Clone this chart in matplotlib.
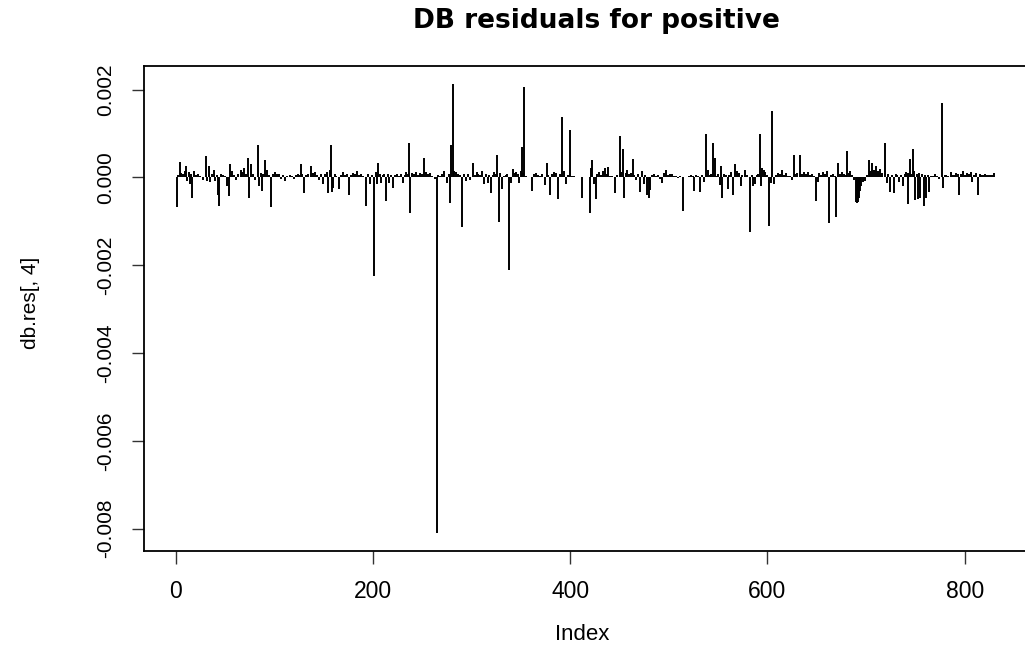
import numpy as np
import matplotlib
matplotlib.use("Agg")
import matplotlib.pyplot as plt

# ---- data (values in units of 1e-4) ----
n_obs = 830
bar_index = [
    1, 2, 4, 5, 7, 9, 10, 11, 13, 14, 16, 17, 19, 21, 23, 25, 28, 31, 32, 34, 35, 37, 39, 40, 42, 43, 44, 46, 48, 50,
    52, 54, 55, 57, 59, 61, 63, 66, 67, 69, 71, 73, 74, 76, 78, 80, 83, 84, 86, 87, 89, 91, 93, 95, 97, 99, 101, 103,
    105, 107, 109, 111, 113, 116, 118, 120, 122, 124, 125, 127, 128, 130, 132, 134, 137, 139, 141, 143, 145, 147, 149,
    151, 153, 154, 156, 157, 158, 159, 161, 163, 166, 168, 170, 172, 174, 176, 178, 180, 182, 184, 186, 188, 190, 193,
    195, 197, 199, 201, 203, 204, 205, 207, 208, 210, 211, 213, 215, 216, 218, 220, 222, 224, 226, 228, 230, 232, 234,
    236, 237, 238, 240, 242, 244, 246, 248, 250, 252, 254, 256, 258, 260, 263, 265, 266, 268, 270, 272, 275, 277, 278,
    279, 281, 282, 284, 286, 288, 290, 292, 294, 296, 298, 301, 303, 305, 307, 309, 311, 313, 315, 317, 318, 320, 322,
    323, 325, 326, 328, 329, 331, 333, 335, 336, 338, 340, 342, 344, 345, 347, 348, 350, 351, 352, 353, 355, 361, 363,
    365, 367, 369, 371, 374, 376, 377, 380, 382, 384, 386, 388, 390, 392, 394, 396, 398, 400, 402, 404, 407, 412, 420,
    421, 422, 424, 426, 427, 429, 431, 433, 435, 437, 438, 440, 442, 445, 447, 450, 452, 454, 455, 457, 458, 460, 462,
    464, 465, 467, 469, 471, 473, 475, 476, 478, 480, 481, 483, 485, 487, 489, 491, 493, 495, 497, 499, 501, 503, 505,
    507, 509, 511, 514, 517, 520, 522, 524, 526, 528, 530, 532, 534, 536, 538, 540, 542, 543, 545, 547, 549, 550, 552,
    553, 554, 556, 558, 560, 561, 563, 565, 567, 569, 571, 573, 574, 577, 579, 582, 584, 585, 587, 589, 590, 592, 593,
    594, 596, 597, 599, 600, 602, 604, 605, 607, 609, 611, 613, 615, 617, 619, 621, 623, 625, 627, 628, 630, 633, 635,
    637, 639, 641, 643, 645, 647, 649, 651, 652, 654, 656, 658, 660, 662, 664, 666, 668, 670, 672, 674, 676, 678, 680,
    681, 683, 684, 686, 688, 690, 691, 692, 693, 694, 695, 697, 699, 701, 703, 704, 706, 708, 710, 712, 714, 716, 719,
    721, 722, 724, 726, 728, 730, 731, 733, 735, 737, 739, 740, 742, 743, 745, 746, 748, 749, 750, 752, 753, 754, 755,
    757, 759, 760, 761, 763, 764, 766, 768, 770, 772, 774, 777, 778, 780, 781, 783, 786, 788, 790, 791, 793, 794, 796,
    798, 800, 802, 804, 806, 807, 809, 811, 813, 815, 817, 819, 821, 823, 825, 827, 829, 830,
]
bar_value_e4 = [
    -6.7, 0.5, 3.5, 1.0, 0.8, 1.5, 2.5, -0.8, 1.2, -1.6, 0.9, -4.6, 1.5, 0.6, 0.8, 0.4, -0.5, 5.0, -0.8, 2.5, -1.1, 0.8,
    1.8, -0.9, 0.6, -4.1, -6.4, 0.9, 0.5, 0.4, -2.0, -4.3, 3.0, 1.5, 0.6, -0.5, 0.8, 1.8, 1.2, 2.1, 0.9, 4.5, -4.7, 3.0,
    0.7, -0.6, 7.5, -2.0, 1.0, -3.0, 0.8, 4.0, 1.8, 0.6, -6.7, 0.8, 1.2, 0.7, 0.9, -0.4, 0.5, -0.9, 0.4, 0.6, 0.3, -0.3,
    0.5, 0.8, 0.5, 3.0, 0.7, -3.5, 0.6, 0.8, 2.5, 1.0, 1.2, 0.5, -0.5, 0.8, -1.5, 0.9, 1.2, -3.6, 1.8, 7.5, -3.3, -2.5,
    0.7, 0.4, -2.6, 0.5, 1.2, 0.6, 0.8, -4.1, 0.6, 1.0, 0.9, 1.4, 0.5, 0.7, 0.3, -6.6, 0.8, -1.5, 0.6, -22.5, 1.2, -1.4,
    3.2, 0.8, -1.2, 0.6, 0.9, -5.4, 0.7, -1.3, 0.5, -2.5, 0.6, 0.9, 0.4, 0.7, -1.2, 0.6, 1.3, 0.9, 7.8, -8.2, 1.0, 0.8,
    1.2, 0.6, 1.0, 0.9, 4.5, 1.3, 0.8, 1.0, 0.3, -0.4, -81.0, 0.6, 0.4, 0.8, 1.5, -1.2, 0.7, -5.9, 7.3, 21.3, 1.5, 1.2,
    0.7, 0.5, -11.3, 0.8, -0.9, 0.7, -0.6, 3.3, 0.6, 1.2, 0.9, 0.5, 1.4, -1.5, 0.8, -1.2, 0.6, -3.6, 0.5, 1.2, 0.9, 5.2,
    -10.1, 1.0, -2.7, 0.4, 0.6, 0.9, -21.1, -1.2, 2.0, 1.0, 1.2, 0.8, -1.3, 1.5, 6.9, 1.0, 20.5, 0.3, -3.0, 0.7, 1.0,
    0.6, 0.4, 0.7, -1.8, 3.2, 0.6, -4.1, 0.8, 1.2, 1.0, -4.8, 0.9, 13.7, 1.5, -1.5, 0.6, 10.7, 0.4, 0.3, 0.2, -4.6,
    -8.2, 2.2, 4.0, -1.5, -4.8, 0.8, 1.2, 0.6, 1.4, 2.2, 0.8, 2.4, 0.4, 0.3, -3.6, 0.5, 9.5, 1.2, 6.5, -4.6, 1.0, 1.8,
    0.8, 1.0, 4.1, 0.6, -0.6, 0.8, -3.4, 1.5, -1.4, 0.5, -4.1, -4.6, -2.8, 0.5, 0.8, 0.3, 0.6, -0.4, -1.2, 1.0, 1.8, 0.6,
    0.9, 0.7, 0.4, 0.3, -0.2, 0.3, -7.7, 0.2, 0.4, 0.6, 0.3, -3.0, 0.5, 0.3, -3.2, 0.6, -1.0, 9.9, 1.8, 0.6, 0.9, 7.8,
    4.5, 0.4, 0.7, -1.8, 2.5, -4.6, 0.8, 0.5, -2.7, 0.6, 1.3, -4.0, 3.0, 1.5, 1.0, -2.0, 0.6, 1.8, 0.5, -12.4, 0.6, -2.0,
    -1.6, 0.5, 0.9, 10.0, -2.0, 2.2, 1.8, 1.2, 0.4, 0.6, -11.1, -1.2, 15.2, -1.6, 0.6, 1.0, 0.8, 1.8, 0.6, 1.0, 0.4, 0.3,
    -0.5, 5.2, 0.9, 1.0, 5.2, 0.8, 1.3, 0.7, 1.2, 0.5, 0.9, 0.4, -5.4, -1.0, 1.0, 0.6, 1.2, 0.9, 1.4, -10.4, 0.5, 0.9,
    0.4, -8.9, 3.2, 0.8, 1.2, 0.9, 0.5, 6.1, 1.0, 1.4, 0.6, -0.5, -5.6, -5.8, -5.7, -4.6, -3.0, -2.0, -1.0, -0.8, 0.6,
    4.0, 1.5, 3.2, 1.8, 2.5, 1.5, 2.0, 1.0, 7.8, -1.2, 0.8, -3.3, 0.6, -3.5, 0.8, 0.5, -1.0, 0.6, -2.0, 0.9, 1.2, -6.0,
    1.0, 4.3, 0.9, 6.5, 1.5, -5.2, 0.8, -4.8, 1.0, -4.6, 0.9, -6.6, 0.6, -4.6, 0.5, -3.2, 0.4, 0.3, 0.8, 0.4, -0.3, 16.9,
    -2.3, 0.5, 0.6, 0.4, 1.2, 0.6, 0.5, 1.0, 0.8, -4.1, 0.9, 1.4, 0.6, 1.0, 0.8, 1.2, -1.0, 0.5, 1.0, -4.1, 0.8, 0.6,
    0.5, 0.7, 0.6, 0.5, 0.6, 0.5, 1.0,
]
x_ticks = [0, 200, 400, 600, 800]
y_ticks = [0.002, 0.000, -0.002, -0.004, -0.006, -0.008]
y_tick_labels = ["0.002", "0.000", "-0.002", "-0.004", "-0.006", "-0.008"]
title_text = "DB residuals for positive"
x_label = "Index"
y_label = "db.res[, 4]"

# ---- build the series ----
index = np.arange(1, n_obs + 1)
res = np.zeros(n_obs)
res[np.array(bar_index) - 1] = np.array(bar_value_e4) * 1e-4

W, H = 1025, 652
fig = plt.figure(figsize=(W / 100, H / 100), dpi=100)
left, right, top, bottom = 144, 1027, 66, 551
ax = fig.add_axes([left / W, 1 - bottom / H, (right - left) / W, (bottom - top) / H])

ax.vlines(index, 0, res, colors="black", linewidth=1.4)

# R-like 4% expansion of data range
xr = n_obs - 1
ax.set_xlim(1 - 0.04 * xr, n_obs + 0.04 * xr)
ymin, ymax = res.min(), res.max()
yr = ymax - ymin
ax.set_ylim(ymin - 0.04 * yr, ymax + 0.04 * yr)

font = "Liberation Sans"
ax.set_xticks(x_ticks)
ax.set_xticklabels([str(t) for t in x_ticks], fontsize=16.5, family=font)
ax.set_yticks(y_ticks)
ax.set_yticklabels(y_tick_labels, fontsize=15, family=font, rotation=90, va="center")
ax.tick_params(axis="both", direction="out", length=9, width=1.0, color="#333333")
ax.tick_params(axis="x", pad=12)
ax.tick_params(axis="y", pad=12)
for s in ax.spines.values():
    s.set_linewidth(1.3)
    s.set_color("black")

fig.text(596 / W, 1 - 21 / H, title_text, ha="center", va="center",
         fontsize=19, fontweight="bold", family="DejaVu Sans")
fig.text(582 / W, 1 - 634 / H, x_label, ha="center", va="center", fontsize=16, family=font)
fig.text(30 / W, 1 - 303 / H, y_label, ha="center", va="center", fontsize=15,
         family=font, rotation=90)

fig.savefig("out.png", dpi=100)
